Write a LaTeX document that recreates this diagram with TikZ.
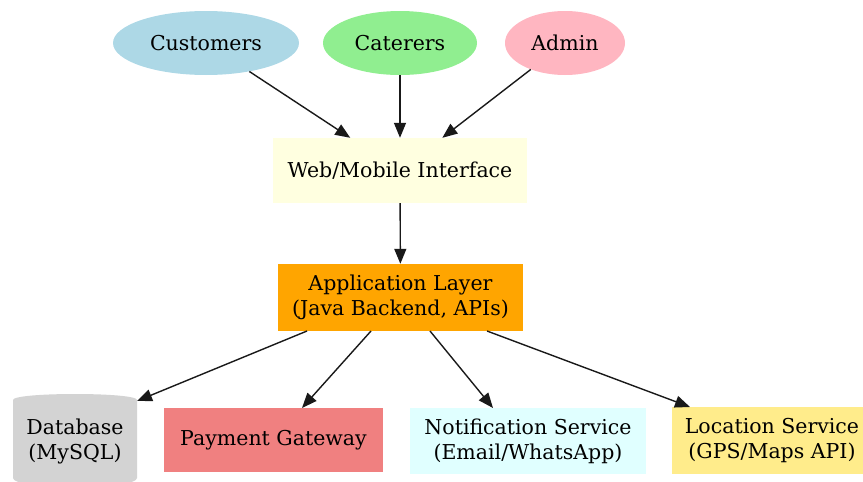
\documentclass[tikz,border=0pt]{standalone}
\usepackage{fontspec}
\setmainfont{DejaVu Serif}
\usetikzlibrary{shapes.geometric,arrows.meta}
\definecolor{custc}{HTML}{ADD8E6}
\definecolor{catc}{HTML}{90EE90}
\definecolor{admc}{HTML}{FFB6C1}
\definecolor{webc}{HTML}{FFFFE0}
\definecolor{appc}{HTML}{FFA500}
\definecolor{dbc}{HTML}{D3D3D3}
\definecolor{payc}{HTML}{F08080}
\definecolor{notc}{HTML}{E0FFFF}
\definecolor{locc}{HTML}{FFEC8B}
\begin{document}
\begin{tikzpicture}[x=1pt,y=-1pt,
  every node/.style={font=\fontsize{20.5}{25}\selectfont, align=center, inner sep=0pt},
  usernode/.style={ellipse, minimum height=64pt},
  boxnode/.style={rectangle},
  conn/.style={draw=black!90, line width=1.4pt, -{Triangle[length=15pt,width=12pt]}}]
\useasboundingbox (0,0) rectangle (863,482);
\begin{scope}
\clip (0,0) rectangle (863,482);
% nodes
\node[usernode, fill=custc, minimum width=186pt] (cust) at (206,43) {Customers};
\node[usernode, fill=catc, minimum width=154pt] (cat) at (400,43) {Caterers};
\node[usernode, fill=admc, minimum width=120pt] (adm) at (565,43) {Admin};
\node[boxnode, fill=webc, minimum width=254pt, minimum height=65pt] (web) at (400,170.5) {Web/Mobile Interface};
\node[boxnode, fill=appc, minimum width=245pt, minimum height=67pt] (app) at (400.5,297.5) {Application Layer\\(Java Backend, APIs)};
% database cylinder
\fill[dbc] (13,400) .. controls (13,392) and (137,392) .. (137,400) -- (137,478) .. controls (137,490) and (13,490) .. (13,478) -- cycle;
\node (db) at (75,441) {Database\\(MySQL)};
\node[boxnode, fill=payc, minimum width=219pt, minimum height=64pt] (pay) at (273.5,440) {Payment Gateway};
\node[boxnode, fill=notc, minimum width=236pt, minimum height=66pt] (not) at (528,441) {Notification Service\\(Email/WhatsApp)};
\node[boxnode, fill=locc, minimum width=200pt, minimum height=67pt] (loc) at (772,440.5) {Location Service\\(GPS/Maps API)};
\end{scope}
% connector end points
\coordinate (a1) at (307,331);
\coordinate (a2) at (371,331);
\coordinate (a3) at (430,331);
\coordinate (a4) at (487,331);
\coordinate (dbin) at (137,401);
\coordinate (payin) at (302,408);
\coordinate (notin) at (493,408);
\coordinate (locin) at (690,407);
% connectors
\draw[conn] (cust) -- (web);
\draw[conn] (cat) -- (web);
\draw[conn] (adm) -- (web);
\draw[conn] (web) -- (app);
\draw[conn] (a1) -- (dbin);
\draw[conn] (a2) -- (payin);
\draw[conn] (a3) -- (notin);
\draw[conn] (a4) -- (locin);
\end{tikzpicture}
\end{document}
